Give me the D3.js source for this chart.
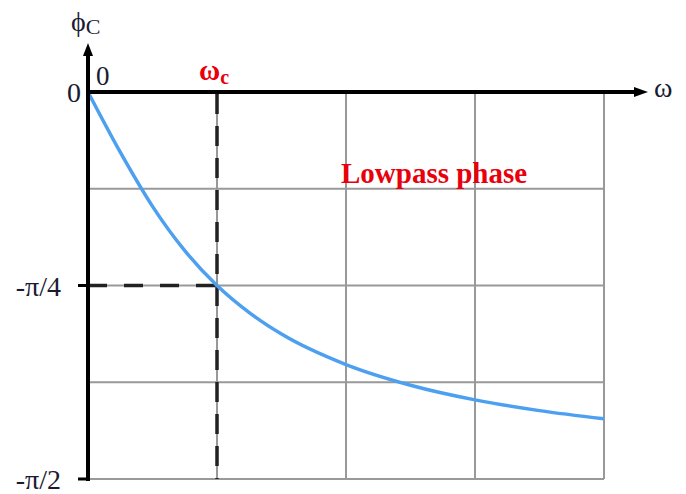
<!DOCTYPE html>
<html><head><meta charset="utf-8">
<script src="https://cdn.jsdelivr.net/npm/d3@7"></script>
<style>body{margin:0;background:#fff}svg{display:block}</style>
</head><body>
<svg id="c" width="686" height="494"></svg>
<script>
// data: omega in units of omega_c, phase in degrees
const omega = [0, 0.25, 0.5, 0.75, 1, 1.25, 1.5, 2, 2.5, 3, 3.5, 4];
const phaseDeg = [0, -14, -26.6, -36.9, -45, -51.3, -56.3, -63.4, -68.2, -71.6, -74.1, -76.0];
const xGrid = [1, 2, 3, 4];
const yGrid = [-22.5, -45, -67.5, -90];
const yTickVals = [0, -45, -90];
const yTickLabels = ["0", "-\u03C0/4", "-\u03C0/2"];
const cutoff = 1, cutoffPhase = -45;

const svg = d3.select("#c");
const x = d3.scaleLinear().domain([0, 4]).range([88, 604]);
const y = d3.scaleLinear().domain([0, -90]).range([92, 479]);
const serif = "Liberation Serif, Times New Roman, serif";
const txt = "#1a1a33";

// grid
svg.append("g").selectAll("line").data(xGrid).join("line")
  .attr("x1", d => x(d)).attr("x2", d => x(d)).attr("y1", y(0)).attr("y2", y(-90))
  .attr("stroke", "#999").attr("stroke-width", 2);
svg.append("g").selectAll("line").data(yGrid).join("line")
  .attr("x1", x(0)).attr("x2", x(4)).attr("y1", d => y(d)).attr("y2", d => y(d))
  .attr("stroke", "#999").attr("stroke-width", 2);

// dashed cutoff guides
svg.append("line").attr("x1", x(cutoff)).attr("x2", x(cutoff)).attr("y1", y(0) + 2).attr("y2", y(-90))
  .attr("stroke", "#222").attr("stroke-width", 3.5).attr("stroke-dasharray", "20,12");
svg.append("line").attr("x1", x(0)).attr("x2", x(cutoff)).attr("y1", y(cutoffPhase)).attr("y2", y(cutoffPhase))
  .attr("stroke", "#222").attr("stroke-width", 3.5).attr("stroke-dasharray", "19,17");

// curve
const line = d3.line().x((d, i) => x(omega[i])).y(d => y(d)).curve(d3.curveMonotoneX);
svg.append("path").datum(phaseDeg).attr("d", line)
  .attr("fill", "none").attr("stroke", "#4da0f0").attr("stroke-width", 3.5);

// axes
svg.append("line").attr("x1", x(0) - 2).attr("x2", 637).attr("y1", y(0)).attr("y2", y(0))
  .attr("stroke", "#000").attr("stroke-width", 4);
svg.append("path").attr("d", `M648,${y(0)} L634,${y(0)-5} L634,${y(0)+5} Z`).attr("fill", "#000");
svg.append("line").attr("x1", x(0)).attr("x2", x(0)).attr("y1", 52).attr("y2", y(-90) + 2)
  .attr("stroke", "#000").attr("stroke-width", 4);
svg.append("path").attr("d", `M${x(0)},43 L${x(0)-5},56 L${x(0)+5},56 Z`).attr("fill", "#000");

// y ticks
svg.append("g").selectAll("line").data(yTickVals.slice(1)).join("line")
  .attr("x1", x(0) - 10).attr("x2", x(0)).attr("y1", d => y(d)).attr("y2", d => y(d))
  .attr("stroke", "#000").attr("stroke-width", 3);
svg.append("g").selectAll("text").data(yTickVals).join("text")
  .attr("x", (d, i) => i === 0 ? 81 : 61)
  .attr("y", d => y(d) + 10)
  .attr("text-anchor", "end").attr("font-family", serif).attr("font-size", 28).attr("fill", txt)
  .text((d, i) => yTickLabels[i]);

// labels
svg.append("text").attr("x", 96).attr("y", 85).attr("font-family", serif).attr("font-size", 27).attr("fill", txt).text("0");
const yl = svg.append("text").attr("x", 71).attr("y", 31).attr("font-family", serif).attr("font-size", 28).attr("fill", txt);
yl.append("tspan").text("\u03D5");
yl.append("tspan").attr("font-size", 22).attr("dy", 3).text("C");
svg.append("text").attr("x", 654).attr("y", 97).attr("font-family", serif).attr("font-size", 28).attr("fill", txt).text("\u03C9");
const wc = svg.append("text").attr("x", 199).attr("y", 80).attr("font-family", serif).attr("font-size", 29)
  .attr("font-weight", "bold").attr("fill", "#e8000b");
wc.append("tspan").text("\u03C9");
wc.append("tspan").attr("font-size", 20).attr("dy", 4).text("c");
svg.append("text").attr("x", 341).attr("y", 183).attr("font-family", serif).attr("font-size", 29)
  .attr("font-weight", "bold").attr("fill", "#e8000b").text("Lowpass phase");
</script>
</body></html>
